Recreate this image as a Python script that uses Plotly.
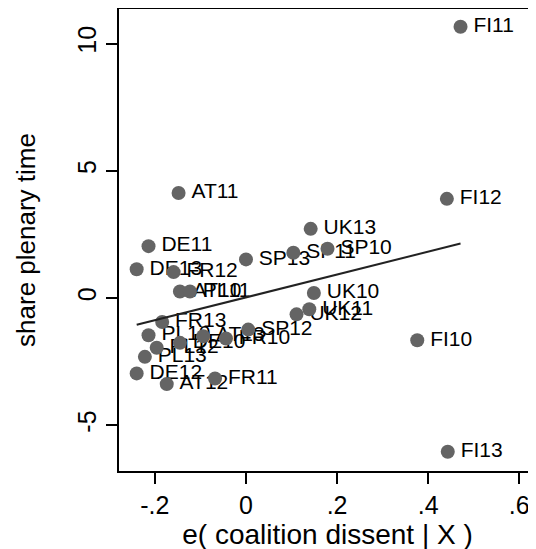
import numpy as np
import plotly.graph_objects as go

labels = ["FI11", "FI12", "FI10", "FI13", "AT11", "UK13", "SP11", "SP10", "SP13",
          "DE11", "DE13", "FR12", "AT10", "PL11", "UK10", "UK12", "UK11", "FR13",
          "PL10", "DE10", "AT13", "FR10", "SP12", "PL12", "PL13", "DE12", "AT12", "FR11"]
x_resid = [0.471, 0.441, 0.376, 0.443, -0.148, 0.142, 0.104, 0.179, 0.000,
           -0.214, -0.240, -0.159, -0.145, -0.123, 0.149, 0.111, 0.139, -0.184,
           -0.214, -0.145, -0.094, -0.044, 0.005, -0.196, -0.222, -0.240, -0.174, -0.068]
y_resid = [10.66, 3.90, -1.66, -6.04, 4.13, 2.72, 1.78, 1.94, 1.52,
           2.04, 1.13, 1.02, 0.26, 0.26, 0.20, -0.64, -0.44, -0.94,
           -1.46, -1.76, -1.50, -1.59, -1.24, -1.95, -2.31, -2.96, -3.38, -3.16]

x_ticks = [-0.2, 0, 0.2, 0.4, 0.6]
x_tick_text = ["-.2", "0", ".2", ".4", ".6"]
y_ticks = [-5, 0, 5, 10]
y_tick_text = ["-5", "0", "5", "10"]

xa = np.array(x_resid)
ya = np.array(y_resid)
slope, intercept = np.polyfit(xa, ya, 1)
fit_x = np.array([xa.min(), xa.max()])
fit_y = intercept + slope * fit_x

FONT = "Liberation Sans, Arial, Helvetica, sans-serif"

fig = go.Figure()
# labels (positioned by a larger invisible marker so the gap matches)
fig.add_trace(go.Scatter(
    x=x_resid, y=y_resid, mode="markers+text", text=labels,
    textposition="middle right",
    textfont=dict(family=FONT, size=21, color="black"),
    marker=dict(size=19, color="rgba(0,0,0,0)"),
    cliponaxis=False, showlegend=False, hoverinfo="skip"))
fig.add_trace(go.Scatter(
    x=x_resid, y=y_resid, mode="markers",
    marker=dict(size=14, color="#646464"),
    cliponaxis=False, showlegend=False, hoverinfo="skip"))
fig.add_trace(go.Scatter(
    x=fit_x, y=fit_y, mode="lines",
    line=dict(color="#222222", width=2), showlegend=False, hoverinfo="skip"))

# the page body adds an 8px offset, so margins are compensated
fig.update_layout(
    width=536, height=549,
    margin=dict(l=111, r=8, t=1, b=86),
    paper_bgcolor="white", plot_bgcolor="white",
    font=dict(family=FONT, size=25, color="black"),
    xaxis=dict(range=[-0.2788, 0.6367], tickvals=x_ticks, ticktext=x_tick_text,
               showgrid=False, zeroline=False, showline=True, linecolor="black",
               linewidth=2, mirror=True, ticks="outside", ticklen=11, tickwidth=2,
               tickcolor="black", tickfont=dict(size=25), automargin=False,
               title=dict(text="e( coalition dissent | X )", font=dict(size=28), standoff=0)),
    yaxis=dict(range=[-6.796, 11.36], tickvals=y_ticks, ticktext=y_tick_text,
               showgrid=False, zeroline=False, showline=True, linecolor="black",
               linewidth=2, ticks="outside", ticklen=11, tickwidth=2,
               tickcolor="black", tickangle=-90, tickfont=dict(size=25), automargin=False,
               title=dict(text="share plenary time", font=dict(size=26), standoff=30)),
)

fig.write_html("out.html")
